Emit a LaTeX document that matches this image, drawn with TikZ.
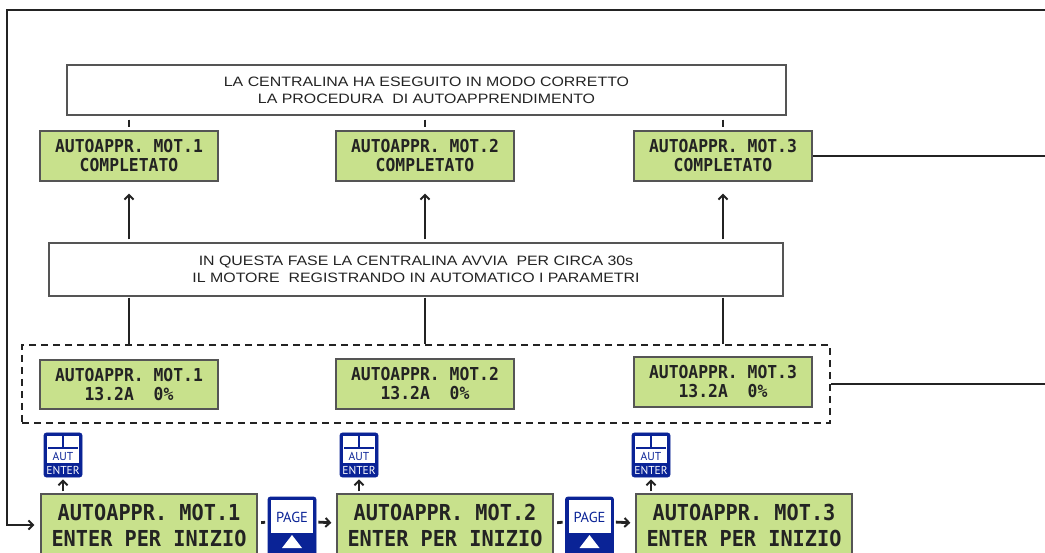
\documentclass[tikz,border=0pt]{standalone}
\usepackage{fontspec}
\usetikzlibrary{arrows.meta,calc}
\newfontfamily\lcdfont{DejaVu Sans Mono}[FakeStretch=0.92]
\newfontfamily\txtfont{Liberation Sans}[FakeStretch=1.17]
\newfontfamily\keyfont{PT Sans}
\definecolor{lcdgreen}{RGB}{200,225,140}
\definecolor{keyblue}{RGB}{10,35,150}
\definecolor{ink}{RGB}{35,35,35}
\definecolor{edge}{RGB}{85,85,85}
\tikzset{
  lcdsmall/.style={draw=edge, line width=1.3pt, fill=lcdgreen, minimum width=178pt, minimum height=50pt, inner sep=0pt, align=center, text=ink, font=\lcdfont\bfseries\fontsize{17.8}{19}\selectfont},
  lcdbig/.style={draw=edge, line width=1.3pt, fill=lcdgreen, minimum width=216pt, minimum height=62pt, inner sep=0pt, align=center, text=ink, font=\lcdfont\bfseries\fontsize{22}{26}\selectfont},
  textbox/.style={draw=edge, line width=1.2pt, fill=white, inner sep=0pt, align=center, text=ink, font=\txtfont\fontsize{13.6}{17}\selectfont},
  conn/.style={draw=ink, line width=2.8pt},
  arr/.style={conn, -{Straight Barb[length=4.5pt,width=9pt,line width=2pt]}},
  keyframe/.style={draw=keyblue, fill=keyblue, rounded corners=2.5pt, line width=0.8pt, inner sep=0pt},
  keylabel/.style={inner sep=0pt, font=\keyfont\fontsize{11.5}{11.5}\selectfont},
  autkey/.pic={
    \node[keyframe, minimum width=38pt, minimum height=44pt] (-b) at (0,0) {};
    \fill[white] (-16,-19) rectangle (16,8);
    \draw[keyblue, line width=1.4pt] (0,-19) -- (0,-7);
    \draw[keyblue, line width=1.1pt] (-15,-7) -- (15,-7);
    \node[keylabel, text=keyblue] (-aut) at (0,1.5) {AUT};
    \node[keylabel, text=white] (-ent) at (0,15) {ENTER};
  },
  pagekey/.pic={
    \node[keyframe, minimum width=48pt, minimum height=60pt] (-b) at (0,0) {};
    \fill[white] (-21,-27) rectangle (21,6);
    \node[inner sep=0pt, text=keyblue, font=\keyfont\fontsize{14.5}{14.5}\selectfont] (-lab) at (0,-10) {PAGE};
    \fill[white] (0,8) -- (10,21) -- (-10,21) -- cycle;
  }
}
\begin{document}
\begin{tikzpicture}[x=1pt,y=-1pt]
\useasboundingbox (0,0) rectangle (1045,553);
\clip (0,0) rectangle (1045,553);
\fill[white] (0,0) rectangle (1045,553);

% top explanation box
\node[textbox, minimum width=719pt, minimum height=50pt] (t) at (426.5,90)
  {LA CENTRALINA HA ESEGUITO IN MODO CORRETTO\\LA PROCEDURA\ \ DI AUTOAPPRENDIMENTO};

% completato boxes
\node[lcdsmall] (c1) at (129,156) {AUTOAPPR. MOT.1\\COMPLETATO};
\node[lcdsmall] (c2) at (425,156) {AUTOAPPR. MOT.2\\COMPLETATO};
\node[lcdsmall] (c3) at (723,156) {AUTOAPPR. MOT.3\\COMPLETATO};

% middle explanation box
\node[textbox, minimum width=734pt, minimum height=53pt] (m) at (416,269.5)
  {IN QUESTA FASE LA CENTRALINA AVVIA\ \ PER CIRCA 30s\\IL MOTORE\ \ REGISTRANDO IN AUTOMATICO I PARAMETRI};

% dashed group
\node[draw=ink, line width=2.6pt, dash pattern=on 7pt off 5pt, minimum width=808pt, minimum height=78pt, inner sep=0pt] (dbox) at (426,384) {};
\node[lcdsmall, minimum height=49pt] (d1) at (129,384.5) {AUTOAPPR. MOT.1\\13.2A\ \ 0\%};
\node[lcdsmall] (d2) at (425,384) {AUTOAPPR. MOT.2\\13.2A\ \ 0\%};
\node[lcdsmall] (d3) at (723,382) {AUTOAPPR. MOT.3\\13.2A\ \ 0\%};

% bottom boxes
\node[lcdbig] (e1) at (149,525) {AUTOAPPR. MOT.1\\ENTER PER INIZIO};
\node[lcdbig] (e2) at (445,525) {AUTOAPPR. MOT.2\\ENTER PER INIZIO};
\node[lcdbig] (e3) at (744,525) {AUTOAPPR. MOT.3\\ENTER PER INIZIO};

% keys
\pic (a1) at (63,455) {autkey};
\pic (a2) at (359,455) {autkey};
\pic (a3) at (651,455) {autkey};
\pic (p1) at (292,527) {pagekey};
\pic (p2) at (589.5,527) {pagekey};

% connectors
\coordinate (rt) at (1045,10);
\coordinate (lb) at (7,525);
\draw[arr, shorten >=6pt] (rt) -| (lb) -- (e1.west);
\draw[conn] (c3.east) -- (c3.east -| rt);
\draw[conn] (dbox.east) -- (dbox.east -| rt);

\foreach \c in {c1,c2,c3}{
  \draw[conn, shorten <=4pt, shorten >=3pt] (t.south -| \c.south) -- (\c.north);
  \draw[arr, shorten <=3pt, shorten >=12pt] (m.north -| \c.south) -- (\c.south);
  \draw[conn, shorten <=1pt] (m.south -| \c.south) -- (dbox.north -| \c.south);
}

\foreach \a/\e in {a1/e1,a2/e2,a3/e3}{
  \draw[arr, shorten <=2pt, shorten >=2pt] (\a-b.south |- \e.north) -- (\a-b.south);
}

\draw[conn, shorten <=3.5pt, shorten >=2.5pt] ([yshift=2pt]e1.east) -- ([yshift=5pt]p1-b.west);
\draw[arr, shorten <=2pt, shorten >=5pt] ([yshift=5pt]p1-b.east) -- ([yshift=2pt]e2.west);
\draw[conn, shorten <=3.5pt, shorten >=2.5pt] ([yshift=2pt]e2.east) -- ([yshift=5pt]p2-b.west);
\draw[arr, shorten <=2pt, shorten >=5pt] ([yshift=5pt]p2-b.east) -- ([yshift=2pt]e3.west);
\end{tikzpicture}
\end{document}
